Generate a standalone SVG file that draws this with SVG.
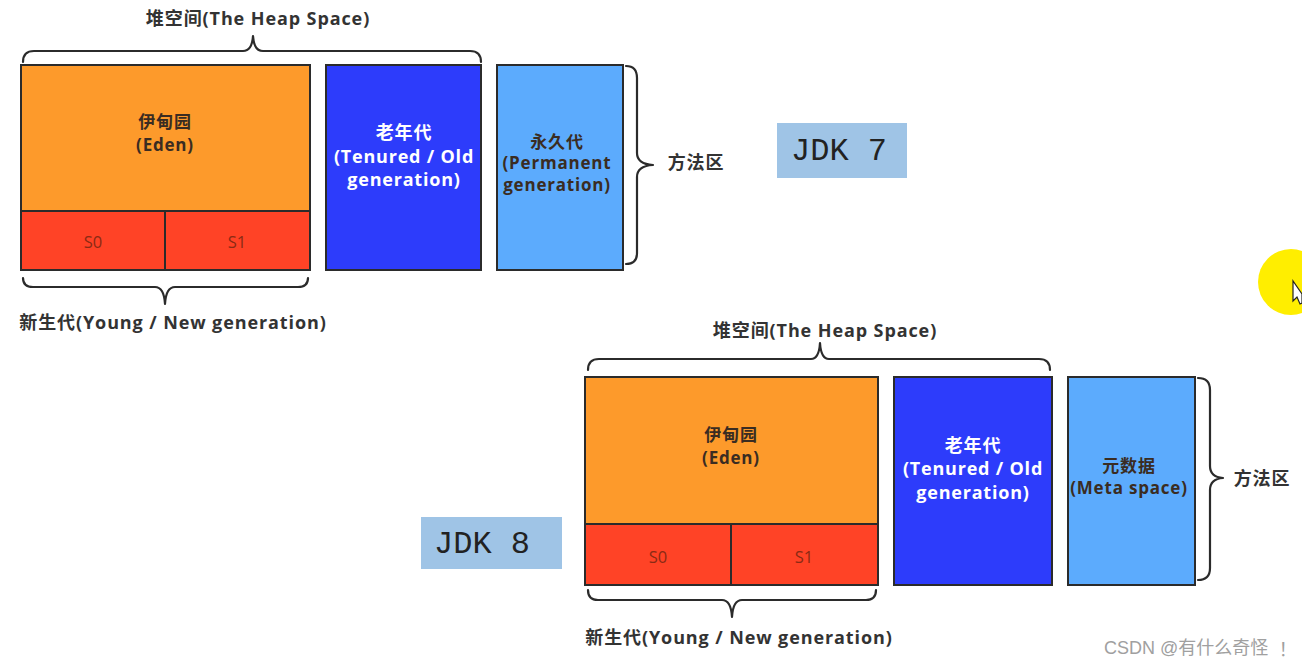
<svg xmlns="http://www.w3.org/2000/svg" width="1302" height="666" viewBox="0 0 1302 666">
<style>
.box{stroke:#2b2b2b;stroke-width:2}
.eden{fill:#fd9a2b}
.surv{fill:#ff4326}
.old{fill:#2d3cfb}
.perm{fill:#5cabfd}
.jdk{fill:#9fc4e6}
.brace{fill:none;stroke:#2b2b2b;stroke-width:2.2;stroke-linecap:round;stroke-linejoin:round}
.t{font-family:"Open Sans","Noto Sans CJK SC",sans-serif;font-weight:bold;text-anchor:middle;dominant-baseline:central}
.lbl{font-size:18px;fill:#333;letter-spacing:0.9px}
.dark{font-size:17px;fill:#3a2c22;letter-spacing:0.8px}
.white{font-size:18px;fill:#fff;letter-spacing:0.8px}
.s{font-family:"Open Sans","Noto Sans CJK SC",sans-serif;font-size:16.5px;fill:#8a2a14;text-anchor:middle;dominant-baseline:central}
.mono{font-family:"Liberation Mono",monospace;font-size:32px;fill:#222;dominant-baseline:central}
.wm{font-family:"Liberation Sans","Noto Sans CJK SC",sans-serif;font-size:18px;fill:#a0a0a0;dominant-baseline:central}
</style>

<g id="jdk7">
  <g id="heap7-label"><text class="t lbl" x="258" y="18">堆空间(The Heap Space)</text></g>
  <g id="eden7">
    <rect class="box eden" x="21" y="65" width="289" height="146"/>
    <text class="t dark" x="165" y="121">伊甸园</text>
    <text class="t dark" x="165" y="144">(Eden)</text>
  </g>
  <g id="s0-7">
    <rect class="box surv" x="21" y="211" width="144" height="59"/>
    <text class="s" x="93" y="241">S0</text>
  </g>
  <g id="s1-7">
    <rect class="box surv" x="165" y="211" width="145" height="59"/>
    <text class="s" x="237" y="241">S1</text>
  </g>
  <g id="old7">
    <rect class="box old" x="326" y="65" width="155" height="205"/>
    <text class="t white" x="404" y="132">老年代</text>
    <text class="t white" x="404" y="156">(Tenured / Old</text>
    <text class="t white" x="404" y="179">generation)</text>
  </g>
  <g id="perm7">
    <rect class="box perm" x="497" y="65" width="126" height="205"/>
    <text class="t dark" x="557" y="141">永久代</text>
    <text class="t dark" x="557" y="162">(Permanent</text>
    <text class="t dark" x="557" y="184">generation)</text>
  </g>
  <g id="method7"><text class="t lbl" x="696" y="162">方法区</text></g>
  <g id="young7-label"><text class="t lbl" x="173" y="322">新生代(Young / New generation)</text></g>
  <g id="jdk7-box">
    <rect class="jdk" x="777" y="123" width="130" height="55"/>
    <text class="mono" x="791" y="151">JDK  7</text>
  </g>
</g>

<g id="jdk8">
  <g id="heap8-label"><text class="t lbl" x="825" y="330">堆空间(The Heap Space)</text></g>
  <g id="eden8">
    <rect class="box eden" x="585" y="377" width="293" height="147"/>
    <text class="t dark" x="731" y="434">伊甸园</text>
    <text class="t dark" x="731" y="457">(Eden)</text>
  </g>
  <g id="s0-8">
    <rect class="box surv" x="585" y="524" width="146" height="61"/>
    <text class="s" x="658" y="556">S0</text>
  </g>
  <g id="s1-8">
    <rect class="box surv" x="731" y="524" width="147" height="61"/>
    <text class="s" x="804" y="556">S1</text>
  </g>
  <g id="old8">
    <rect class="box old" x="894" y="377" width="158" height="208"/>
    <text class="t white" x="973" y="445">老年代</text>
    <text class="t white" x="973" y="468">(Tenured / Old</text>
    <text class="t white" x="973" y="492">generation)</text>
  </g>
  <g id="meta8">
    <rect class="box perm" x="1068" y="377" width="127" height="208"/>
    <text class="t dark" x="1129" y="465">元数据</text>
    <text class="t dark" x="1129" y="487">(Meta space)</text>
  </g>
  <g id="method8"><text class="t lbl" x="1262" y="478">方法区</text></g>
  <g id="young8-label"><text class="t lbl" x="739" y="637">新生代(Young / New generation)</text></g>
  <g id="jdk8-box">
    <rect class="jdk" x="421" y="517" width="141" height="52"/>
    <text class="mono" x="434" y="544">JDK  8</text>
  </g>
</g>

<g id="connectors">
  <path class="brace" d="M23,62 Q23,51 34,51 L243,51 Q252,51 253,36 Q254,51 263,51 L470,51 Q481,51 481,62"/>
  <path class="brace" d="M23,278 Q23,287 33,287 L155,287 Q164,287 165,304 Q166,287 175,287 L298,287 Q308,287 308,278"/>
  <path class="brace" d="M626,66 Q637,66 637,78 L637,153 Q637,164 653,165 Q637,166 637,177 L637,253 Q637,264 626,264"/>
  <path class="brace" d="M588,370 Q588,359 599,359 L811,359 Q819,359 820,343 Q821,359 829,359 L1039,359 Q1050,359 1050,370"/>
  <path class="brace" d="M588,590 Q588,600 598,600 L722,600 Q731,600 732,617 Q733,600 742,600 L866,600 Q876,600 876,590"/>
  <path class="brace" d="M1198,378 Q1210,378 1210,390 L1210,466 Q1210,477 1223,478 Q1210,479 1210,490 L1210,568 Q1210,580 1198,580"/>
</g>

<g id="overlay">
  <circle cx="1291" cy="282" r="33" fill="#ffee00"/>
  <polygon points="1293,281 1293,301 1297,297 1300,304 1302,303 1302,294" fill="#fff" stroke="#222" stroke-width="1.2"/>
  <text class="wm" x="1104" y="648">CSDN @有什么奇怪<tspan font-family="Noto Sans CJK JP" dx="6">！</tspan></text>
</g>
</svg>
